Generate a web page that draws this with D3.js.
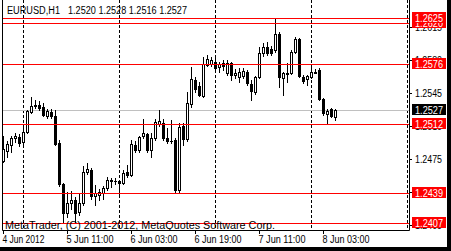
<!DOCTYPE html>
<html><head><meta charset="utf-8">
<script src="https://cdn.jsdelivr.net/npm/d3@7"></script>
<style>body{margin:0;background:#fff}svg{display:block}text{font-family:"Liberation Sans",Arial,sans-serif}</style>
</head><body><svg id="c" width="451" height="251"></svg>
<script>
const symbol = "EURUSD,H1";
const quote = "1.2520 1.2528 1.2516 1.2527";
const copyright = "MetaTrader, (C) 2001-2012, MetaQuotes Software Corp.";
const startTime = Date.UTC(2012, 5, 4, 19);
const opens  = [1.2473,1.2484,1.2490,1.2497,1.2498,1.2493,1.2504,1.2525,1.2531,1.2533,1.2530,1.2521,1.2525,1.2521,1.2492,1.2448,1.2418,1.2428,1.2431,1.2419,1.2428,1.2461,1.2463,1.2436,1.2437,1.2439,1.2444,1.2453,1.2452,1.2452,1.2450,1.2461,1.2458,1.2490,1.2485,1.2499,1.2502,1.2485,1.2497,1.2512,1.2513,1.2497,1.2494,1.2495,1.2442,1.2510,1.2496,1.2534,1.2559,1.2553,1.2542,1.2575,1.2576,1.2578,1.2573,1.2577,1.2566,1.2577,1.2564,1.2562,1.2563,1.2568,1.2555,1.2546,1.2562,1.2588,1.2594,1.2592,1.2591,1.2608,1.2561,1.2565,1.2566,1.2589,1.2603,1.2562,1.2560,1.2562,1.2568,1.2570,1.2539,1.2523,1.2528,1.2520];
const highs  = [1.2500,1.2494,1.2500,1.2503,1.2502,1.2508,1.2527,1.2541,1.2538,1.2537,1.2535,1.2528,1.2528,1.2527,1.2495,1.2450,1.2440,1.2441,1.2435,1.2439,1.2468,1.2471,1.2465,1.2447,1.2443,1.2446,1.2456,1.2455,1.2455,1.2453,1.2463,1.2469,1.2495,1.2494,1.2500,1.2518,1.2503,1.2503,1.2518,1.2527,1.2518,1.2508,1.2516,1.2497,1.2513,1.2513,1.2546,1.2573,1.2562,1.2557,1.2584,1.2586,1.2584,1.2584,1.2578,1.2580,1.2580,1.2578,1.2571,1.2572,1.2572,1.2570,1.2559,1.2563,1.2594,1.2598,1.2599,1.2595,1.2625,1.2610,1.2568,1.2577,1.2591,1.2605,1.2604,1.2564,1.2564,1.2575,1.2571,1.2572,1.2540,1.2528,1.2529,1.2528];
const lows   = [1.2472,1.2477,1.2483,1.2493,1.2489,1.2491,1.2503,1.2524,1.2529,1.2527,1.2521,1.2519,1.2519,1.2490,1.2446,1.2408,1.2413,1.2422,1.2407,1.2416,1.2426,1.2459,1.2432,1.2426,1.2431,1.2433,1.2442,1.2445,1.2448,1.2437,1.2449,1.2456,1.2457,1.2482,1.2483,1.2497,1.2482,1.2477,1.2495,1.2510,1.2495,1.2492,1.2492,1.2440,1.2440,1.2490,1.2494,1.2530,1.2546,1.2542,1.2541,1.2574,1.2574,1.2570,1.2568,1.2570,1.2564,1.2559,1.2561,1.2557,1.2561,1.2554,1.2538,1.2544,1.2561,1.2585,1.2586,1.2586,1.2589,1.2552,1.2543,1.2557,1.2565,1.2588,1.2562,1.2556,1.2554,1.2561,1.2566,1.2538,1.2522,1.2513,1.2520,1.2516];
const closes = [1.2486,1.2491,1.2497,1.2499,1.2492,1.2504,1.2526,1.2531,1.2532,1.2529,1.2522,1.2526,1.2521,1.2491,1.2448,1.2418,1.2428,1.2431,1.2418,1.2428,1.2461,1.2464,1.2436,1.2439,1.2440,1.2444,1.2453,1.2452,1.2452,1.2450,1.2460,1.2458,1.2491,1.2485,1.2498,1.2503,1.2485,1.2497,1.2514,1.2515,1.2497,1.2494,1.2494,1.2442,1.2509,1.2496,1.2535,1.2560,1.2550,1.2543,1.2576,1.2581,1.2580,1.2572,1.2576,1.2574,1.2577,1.2564,1.2566,1.2568,1.2569,1.2556,1.2547,1.2562,1.2588,1.2594,1.2588,1.2588,1.2608,1.2562,1.2566,1.2566,1.2589,1.2603,1.2563,1.2558,1.2563,1.2568,1.2567,1.2539,1.2524,1.2526,1.2521,1.2527];
const levels = [1.2620, 1.2625, 1.2576, 1.2512, 1.2439, 1.2407];
const levelLabels = ["1.2620", "1.2625", "1.2576", "1.2512", "1.2439", "1.2407"];
const bid = 1.2527;
const bidLabel = "1.2527";
const priceTicks = [1.2615, 1.2580, 1.2545, 1.2510, 1.2475, 1.2440, 1.2405];
const priceTickLabels = ["1.2615", "1.2580", "1.2545", "1.2510", "1.2475", "1.2440", "1.2405"];
const timeTicks = [Date.UTC(2012,5,4,19), Date.UTC(2012,5,5,11), Date.UTC(2012,5,6,3), Date.UTC(2012,5,6,19), Date.UTC(2012,5,7,11), Date.UTC(2012,5,8,3)];
const timeLabels = ["4 Jun 2012", "5 Jun 11:00", "6 Jun 03:00", "6 Jun 19:00", "7 Jun 11:00", "8 Jun 03:00"];
const dayLines = [Date.UTC(2012,5,5), Date.UTC(2012,5,6), Date.UTC(2012,5,7), Date.UTC(2012,5,8), Date.UTC(2012,5,9)];

const svg = d3.select("#c");
const x = d3.scaleUtc().domain([new Date(startTime), new Date(Date.UTC(2012,5,9,0))]).range([3, 407]);
const y = d3.scaleLinear().domain([1.2407, 1.2625]).range([223, 18]);
const H = 3600000;
const bars = opens.map((o, i) => ({t: new Date(startTime + i * H), o, h: highs[i], l: lows[i], c: closes[i]}));

svg.append("rect").attr("width", 451).attr("height", 251).attr("fill", "#fff");

// day separators
svg.selectAll(".grid").data(dayLines).join("line")
  .attr("x1", d => Math.round(x(new Date(d))) + 0.5).attr("x2", d => Math.round(x(new Date(d))) + 0.5)
  .attr("y1", 0).attr("y2", 230).attr("stroke", "#000").attr("stroke-dasharray", "3,2");

// bid line
svg.append("line").attr("x1", 2).attr("x2", 409)
  .attr("y1", Math.round(y(bid)) + 0.5).attr("y2", Math.round(y(bid)) + 0.5).attr("stroke", "#c0c0c0");

// candles
const g = svg.append("g");
bars.forEach(b => {
  const X = Math.round(x(b.t));
  const yh = Math.round(y(b.h)), yl = Math.round(y(b.l));
  const top = Math.round(y(Math.max(b.o, b.c))), bot = Math.round(y(Math.min(b.o, b.c)));
  g.append("rect").attr("x", X).attr("y", yh).attr("width", 1).attr("height", yl - yh + 1).attr("fill", "#000");
  g.append("rect").attr("x", X - 1).attr("y", top).attr("width", 3).attr("height", bot - top + 1).attr("fill", "#000");
  if (b.c > b.o && bot - top > 1) {
    g.append("rect").attr("x", X).attr("y", top + 1).attr("width", 1).attr("height", bot - top - 1).attr("fill", "#fff");
  }
});

// level lines
svg.selectAll(".lvl").data(levels).join("line")
  .attr("x1", 2).attr("x2", 409)
  .attr("y1", d => Math.round(y(d)) + 0.5).attr("y2", d => Math.round(y(d)) + 0.5)
  .attr("stroke", "#ff0000");

// frame
svg.append("path").attr("d", "M2.5,0V230.5H409.5V0").attr("fill", "none").attr("stroke", "#000");

// price axis
priceTicks.forEach((p, i) => {
  const py = Math.round(y(p));
  svg.append("line").attr("x1", 409).attr("x2", 412).attr("y1", py + 0.5).attr("y2", py + 0.5).attr("stroke", "#000");
  svg.append("text").attr("x", 415).attr("y", py + 4).attr("font-size", 10).attr("fill", "#000")
    .attr("textLength", 27).attr("lengthAdjust", "spacingAndGlyphs").text(priceTickLabels[i]);
});

// level labels
levels.forEach((p, i) => {
  const py = Math.round(y(p));
  svg.append("rect").attr("x", 412).attr("y", py - 6).attr("width", 34).attr("height", 11).attr("fill", "#ff0000");
  svg.append("text").attr("x", 415).attr("y", py + 3.5).attr("font-size", 10).attr("fill", "#fff")
    .attr("textLength", 28).attr("lengthAdjust", "spacingAndGlyphs").text(levelLabels[i]);
});
{
  const py = Math.round(y(bid));
  svg.append("rect").attr("x", 412).attr("y", py - 6).attr("width", 34).attr("height", 11).attr("fill", "#000");
  svg.append("text").attr("x", 415).attr("y", py + 3.5).attr("font-size", 10).attr("fill", "#fff")
    .attr("textLength", 28).attr("lengthAdjust", "spacingAndGlyphs").text(bidLabel);
}

// time axis
timeTicks.forEach((t, i) => {
  const tx = Math.round(x(new Date(t)));
  svg.append("line").attr("x1", tx + 0.5).attr("x2", tx + 0.5).attr("y1", 231).attr("y2", 234).attr("stroke", "#000");
  svg.append("text").attr("x", tx - 0.5).attr("y", 243).attr("font-size", 10).attr("fill", "#000")
    .attr("textLength", timeLabels[i].length > 10 ? 47 : 42).attr("lengthAdjust", "spacingAndGlyphs").text(timeLabels[i]);
});

// title
svg.append("text").attr("x", 7).attr("y", 14).attr("font-size", 10).attr("fill", "#000")
  .attr("textLength", 53).attr("lengthAdjust", "spacingAndGlyphs").text(symbol);
svg.append("text").attr("x", 68).attr("y", 14).attr("font-size", 10).attr("fill", "#000")
  .attr("textLength", 119).attr("lengthAdjust", "spacingAndGlyphs").text(quote);

// copyright
svg.append("text").attr("x", 5).attr("y", 229).attr("font-size", 10).attr("fill", "#000")
  .attr("textLength", 270).attr("lengthAdjust", "spacingAndGlyphs").text(copyright);

// window border
svg.append("rect").attr("x", 447).attr("y", 0).attr("width", 4).attr("height", 251).attr("fill", "#000");
svg.append("rect").attr("x", 0).attr("y", 247).attr("width", 451).attr("height", 4).attr("fill", "#000");
</script></body></html>
